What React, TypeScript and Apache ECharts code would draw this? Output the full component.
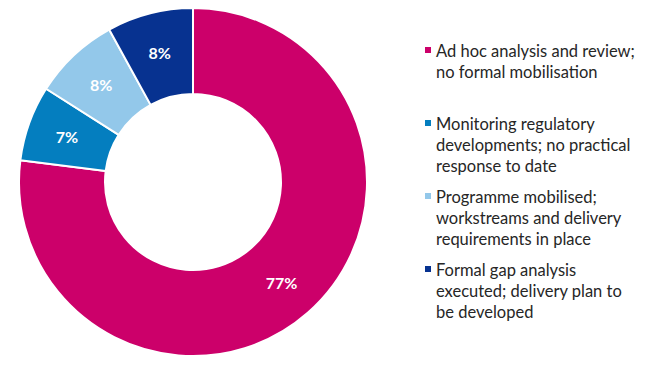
import React, { useEffect, useRef } from "react";
import * as echarts from "echarts";

const categories = [
  "Ad hoc analysis and review;\nno formal mobilisation",
  "Monitoring regulatory\ndevelopments; no practical\nresponse to date",
  "Programme mobilised;\nworkstreams and delivery\nrequirements in place",
  "Formal gap analysis\nexecuted; delivery plan to\nbe developed",
];
const values = [77, 7, 8, 8];
const colors = ["#CC006A", "#047EBF", "#93C8EA", "#073290"];
const legendTops = [40, 113, 186, 259];

export default function App() {
  const ref = useRef<HTMLDivElement>(null);
  useEffect(() => {
    if (!ref.current) return;
    const chart = echarts.init(ref.current, undefined, { renderer: "svg" });
    const legendGraphics: any[] = [];
    categories.forEach((name, i) => {
      legendGraphics.push({
        type: "group",
        left: 425,
        top: legendTops[i],
        children: [
          { type: "rect", shape: { x: 0, y: 7, width: 6, height: 6 }, style: { fill: colors[i] } },
          {
            type: "text",
            x: 11,
            y: 0,
            style: {
              text: name,
              font: "16.5px Lato",
              fill: "#262626",
              lineHeight: 21,
              textVerticalAlign: "top",
            },
          },
        ],
      });
    });
    chart.setOption({
      animation: false,
      graphic: legendGraphics,
      series: [
        {
          type: "pie",
          center: [193, 182],
          radius: [88, 174],
          startAngle: 90,
          clockwise: true,
          avoidLabelOverlap: false,
          itemStyle: { borderColor: "#fff", borderWidth: 2 },
          label: {
            show: true,
            position: "inside",
            formatter: "{c}%",
            color: "#fff",
            fontFamily: "Lato",
            fontWeight: "bold",
            fontSize: 16,
          },
          labelLine: { show: false },
          data: values.map((v, i) => ({
            value: v,
            name: categories[i],
            itemStyle: { color: colors[i] },
          })),
        },
      ],
    });
    return () => chart.dispose();
  }, []);
  return (
    <div
      ref={ref}
      style={{ position: "fixed", left: 0, top: 0, width: 650, height: 372, background: "#fff" }}
    />
  );
}
